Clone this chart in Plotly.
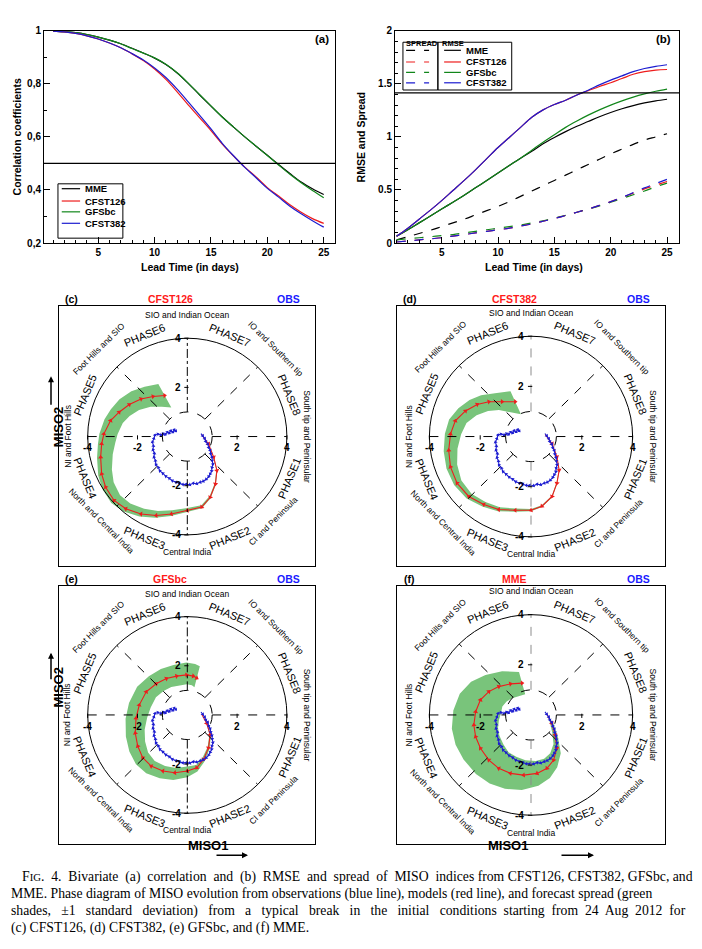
"""
Fig. 4: MISO skill (correlation, RMSE/spread) and phase diagrams for
CFST126, CFST382, GFSbc and MME.
"""
import numpy as np
import plotly.graph_objects as go

W, H = 702, 949
OFF = 8  # the page body keeps its default 8px margin
FW, FH = W - OFF, H - OFF
SANS = "Liberation Sans"
SERIF = "Liberation Serif"

# Panel (a) - bivariate correlation
# ============
lead_days = list(range(1, 26))
corr_mme = [0.999, 0.997, 0.993, 0.986, 0.976, 0.965, 0.951, 0.934, 0.916, 0.897, 0.873, 0.841,
            0.801, 0.758, 0.716, 0.675, 0.637, 0.600, 0.565, 0.531, 0.496, 0.462, 0.430, 0.405, 0.383]
corr_cfst126 = [0.999, 0.996, 0.990, 0.981, 0.969, 0.954, 0.936, 0.913, 0.888, 0.856, 0.817, 0.770,
                0.720, 0.672, 0.624, 0.573, 0.528, 0.486, 0.449, 0.409, 0.377, 0.344, 0.316, 0.292, 0.274]
corr_gfsbc = [0.999, 0.997, 0.993, 0.986, 0.976, 0.965, 0.951, 0.933, 0.916, 0.898, 0.874, 0.842,
              0.802, 0.759, 0.717, 0.675, 0.637, 0.600, 0.565, 0.530, 0.494, 0.459, 0.427, 0.398, 0.371]
corr_cfst382 = [0.999, 0.996, 0.990, 0.981, 0.969, 0.954, 0.936, 0.914, 0.890, 0.860, 0.824, 0.780,
                0.731, 0.681, 0.630, 0.576, 0.529, 0.485, 0.446, 0.406, 0.373, 0.339, 0.310, 0.284, 0.260]
corr_threshold = 0.5

# Panel (b) - RMSE (solid) and spread (dashed)
# ============
rmse_mme = [0.065, 0.125, 0.19, 0.255, 0.32, 0.385, 0.45, 0.52, 0.59, 0.66, 0.73, 0.80,
            0.865, 0.935, 0.995, 1.05, 1.10, 1.145, 1.19, 1.23, 1.265, 1.295, 1.32, 1.34, 1.355]
rmse_cfst126 = [0.065, 0.14, 0.225, 0.31, 0.40, 0.495, 0.59, 0.69, 0.795, 0.90, 0.995, 1.09,
                1.185, 1.255, 1.305, 1.345, 1.395, 1.435, 1.475, 1.51, 1.55, 1.59, 1.615, 1.63, 1.635]
rmse_gfsbc = [0.065, 0.125, 0.19, 0.255, 0.32, 0.385, 0.45, 0.52, 0.59, 0.66, 0.73, 0.80,
              0.875, 0.95, 1.02, 1.09, 1.15, 1.205, 1.255, 1.30, 1.34, 1.375, 1.405, 1.43, 1.45]
rmse_cfst382 = [0.065, 0.14, 0.225, 0.31, 0.40, 0.495, 0.59, 0.69, 0.795, 0.90, 0.995, 1.09,
                1.185, 1.255, 1.305, 1.345, 1.395, 1.44, 1.49, 1.535, 1.575, 1.615, 1.645, 1.665, 1.68]
spread_mme = [0.03, 0.06, 0.09, 0.12, 0.155, 0.19, 0.225, 0.265, 0.305, 0.345, 0.39, 0.44,
              0.49, 0.54, 0.59, 0.64, 0.69, 0.74, 0.79, 0.84, 0.885, 0.93, 0.97, 1.00, 1.03]
spread_cfst126 = [0.01, 0.02, 0.03, 0.04, 0.05, 0.065, 0.08, 0.095, 0.11, 0.125, 0.14, 0.16,
                  0.18, 0.205, 0.23, 0.26, 0.29, 0.32, 0.355, 0.39, 0.43, 0.47, 0.51, 0.545, 0.58]
spread_gfsbc = [0.03, 0.04, 0.05, 0.06, 0.07, 0.08, 0.095, 0.11, 0.125, 0.14, 0.155, 0.17,
                0.19, 0.21, 0.235, 0.26, 0.29, 0.32, 0.35, 0.385, 0.42, 0.455, 0.49, 0.53, 0.565]
spread_cfst382 = [0.01, 0.02, 0.03, 0.04, 0.05, 0.065, 0.08, 0.095, 0.11, 0.125, 0.14, 0.16,
                  0.18, 0.205, 0.23, 0.26, 0.29, 0.32, 0.355, 0.39, 0.43, 0.475, 0.52, 0.56, 0.60]
rmse_threshold = 1.414

# Phase diagrams (c)-(f)
# ============
obs_miso1 = [0.55, 0.62, 0.70, 0.74, 0.82, 0.86, 0.92, 0.94, 0.99, 1.00, 1.03, 0.99, 0.98, 0.92,
             0.86, 0.76, 0.64, 0.52, 0.38, 0.24, 0.10, -0.04, -0.18, -0.32, -0.46, -0.60, -0.72,
             -0.86, -0.98, -1.10, -1.16, -1.26, -1.28, -1.34, -1.32, -1.38, -1.36, -1.40, -1.34,
             -1.30, -1.18, -1.06, -0.96, -0.88, -0.80, -0.72, -0.66, -0.58, -0.52, -0.46]
obs_miso2 = [0.12, 0.03, -0.08, -0.20, -0.30, -0.45, -0.56, -0.70, -0.84, -0.98, -1.12, -1.26,
             -1.40, -1.52, -1.63, -1.74, -1.82, -1.86, -1.92, -1.90, -1.96, -1.94, -1.95, -1.90,
             -1.86, -1.80, -1.70, -1.62, -1.50, -1.40, -1.26, -1.14, -0.98, -0.84, -0.68, -0.54,
             -0.38, -0.22, -0.08, 0.06, 0.10, 0.06, 0.12, 0.08, 0.18, 0.14, 0.24, 0.18, 0.28, 0.22]

cfst126_miso1 = [0.58, 0.85, 1.06, 1.19, 1.13, 0.92, 0.58, 0.00, -0.64, -1.25, -1.86, -2.47,
                 -2.94, -3.28, -3.44, -3.48, -3.44, -3.35, -3.08, -2.74, -2.33, -1.86, -1.38, -0.91]
cfst126_miso2 = [0.08, -0.30, -0.84, -1.38, -1.93, -2.47, -2.87, -3.01, -3.15, -3.21, -3.15, -2.94,
                 -2.60, -2.06, -1.52, -0.84, -0.30, 0.11, 0.65, 0.99, 1.30, 1.53, 1.63, 1.67]
cfst126_sd_in = [0, 0.02, 0.03, 0.04, 0.05, 0.06, 0.08, 0.10, 0.15, 0.20, 0.25, 0.28,
                 0.32, 0.38, 0.45, 0.50, 0.55, 0.55, 0.50, 0.45, 0.45, 0.50, 0.55, 0.56]
cfst126_sd_out = [0, 0.01, 0.02, 0.02, 0.03, 0.04, 0.05, 0.06, 0.08, 0.10, 0.12, 0.14,
                  0.15, 0.15, 0.15, 0.15, 0.15, 0.18, 0.25, 0.35, 0.45, 0.50, 0.52, 0.53]

cfst382_miso1 = [0.56, 0.83, 1.02, 1.11, 1.02, 0.83, 0.43, 0.00, -0.62, -1.27, -1.86,
                 -2.45, -2.91, -3.17, -3.24, -3.17, -2.98, -2.58, -2.12, -1.66, -1.14, -0.62]
cfst382_miso2 = [0.08, -0.29, -0.81, -1.34, -1.86, -2.39, -2.78, -2.94, -2.94, -2.91, -2.71,
                 -2.39, -1.86, -1.21, -0.55, 0.10, 0.63, 1.02, 1.28, 1.39, 1.39, 1.39]
cfst382_sd_in = [0, 0.01, 0.02, 0.02, 0.03, 0.03, 0.04, 0.05, 0.07, 0.10, 0.12,
                 0.15, 0.20, 0.28, 0.35, 0.42, 0.45, 0.47, 0.50, 0.52, 0.54, 0.55]
cfst382_sd_out = [0, 0.01, 0.01, 0.02, 0.02, 0.03, 0.03, 0.04, 0.06, 0.08, 0.10,
                  0.12, 0.14, 0.17, 0.20, 0.22, 0.25, 0.30, 0.35, 0.40, 0.44, 0.46]

gfsbc_miso1 = [0.58, 0.78, 0.92, 0.85, 0.65, 0.38, 0.00, -0.50, -0.98, -1.45, -1.79,
               -1.99, -2.09, -2.06, -1.93, -1.65, -1.25, -0.84, -0.43, -0.03, 0.24, 0.38]
gfsbc_miso2 = [0.03, -0.34, -0.81, -1.34, -1.81, -2.15, -2.28, -2.35, -2.28, -2.08, -1.74,
               -1.27, -0.74, -0.13, 0.40, 0.94, 1.27, 1.48, 1.58, 1.63, 1.58, 1.50]
gfsbc_sd_in = [0, 0.02, 0.04, 0.06, 0.09, 0.12, 0.18, 0.20, 0.22, 0.25, 0.30,
               0.35, 0.40, 0.45, 0.47, 0.45, 0.42, 0.40, 0.40, 0.38, 0.38, 0.38]
gfsbc_sd_out = [0, 0.02, 0.04, 0.07, 0.10, 0.15, 0.25, 0.30, 0.32, 0.35, 0.38,
                0.40, 0.40, 0.42, 0.42, 0.42, 0.42, 0.45, 0.47, 0.50, 0.50, 0.50]

mme_miso1 = [0.63, 0.82, 0.95, 1.02, 0.89, 0.63, 0.24, -0.29, -0.81, -1.27,
             -1.66, -1.99, -2.18, -2.25, -2.18, -1.99, -1.66, -1.27, -0.81, -0.35]
mme_miso2 = [0.03, -0.33, -0.80, -1.33, -1.80, -2.13, -2.33, -2.40, -2.33, -2.13,
             -1.80, -1.33, -0.87, -0.40, 0.13, 0.60, 0.93, 1.13, 1.24, 1.27]
mme_sd_in = [0, 0.08, 0.15, 0.22, 0.30, 0.40, 0.50, 0.60, 0.70, 0.75,
             0.85, 0.90, 0.95, 1.00, 1.00, 0.90, 0.80, 0.70, 0.60, 0.46]
mme_sd_out = [0, 0.08, 0.15, 0.25, 0.32, 0.40, 0.50, 0.60, 0.65, 0.70,
              0.75, 0.80, 0.85, 0.88, 0.88, 0.85, 0.80, 0.70, 0.60, 0.46]

phase_names = ["PHASE1", "PHASE2", "PHASE3", "PHASE4", "PHASE5", "PHASE6", "PHASE7", "PHASE8"]
region_names = ["SIO and Indian Ocean", "IO and Southern tip", "South tip and Peninsular",
                "CI and Peninsula", "Central India", "North and Central India",
                "NI and Foot Hills", "Foot Hills and SIO"]
amp_ticks = [-4, -2, 2, 4]

caption_lines = [
    "F<span style='font-size:10.7px'>IG</span>.  4.  Bivariate  (a)  correlation  and  (b)  RMSE  and  spread  of  MISO  "
    "indices from CFST126, CFST382, GFSbc, and",
    "MME. Phase diagram of MISO evolution from observations (blue line), models (red line), and forecast spread (green",
    "shades,   ±1   standard   deviation)   from   a   typical   break   in   the   initial   conditions  "
    "starting  from  24  Aug  2012  for",
    "(c) CFST126, (d) CFST382, (e) GFSbc, and (f) MME.",
]

C_BLACK, C_RED, C_GREEN, C_BLUE = "#000000", "#ee1c1c", "#11861a", "#1c1cd0"
C_BAND = "#79c47b"


def px_x(p):
    return (p - OFF) / FW


def px_y(p):
    return 1 - (p - OFF) / FH


def band_polygon(m1, m2, sd_in, sd_out):
    # --- Radial envelope around the forecast track
    x, y = np.asarray(m1), np.asarray(m2)
    r = np.hypot(x, y)
    ux, uy = x / r, y / r
    xo, yo = x + ux * np.asarray(sd_out), y + uy * np.asarray(sd_out)
    xi, yi = x - ux * np.asarray(sd_in), y - uy * np.asarray(sd_in)
    return np.concatenate([xo, xi[::-1]]), np.concatenate([yo, yi[::-1]])


def label_angle(theta):
    # Keep text readable around the circle
    return 90 - theta if 0 <= theta <= 180 else -(theta + 90)


fig = go.Figure()
ann = []
shapes = []
bold_tick = dict(family=SANS, size=10, color="black", weight="bold")

# Line panels (a) and (b)
# ===================
line_axis = dict(showline=True, mirror=True, linecolor="black", linewidth=1, showgrid=False,
                 zeroline=False, ticks="inside", ticklen=6, tickcolor="black", tickfont=bold_tick)
fig.update_layout(
    xaxis=dict(line_axis, domain=[px_x(44), px_x(335)], range=[0.19, 26], anchor="y",
               tickvals=[5, 10, 15, 20, 25], minor=dict(dtick=1, ticks="inside", ticklen=3)),
    yaxis=dict(line_axis, domain=[px_y(240), px_y(25)], range=[0.2, 1], anchor="x",
               tickvals=[0.2, 0.4, 0.6, 0.8, 1.0], ticktext=["0,2", "0,4", "0,6", "0,8", "1"],
               minor=dict(dtick=0.1, ticks="inside", ticklen=3)),
    xaxis2=dict(line_axis, domain=[px_x(395), px_x(679)], range=[0.86, 26.06], anchor="y2",
                tickvals=[5, 10, 15, 20, 25], minor=dict(dtick=1, ticks="inside", ticklen=3)),
    yaxis2=dict(line_axis, domain=[px_y(240), px_y(25)], range=[0, 2], anchor="x2",
                tickvals=[0, 0.5, 1, 1.5, 2], ticktext=["0", "0.5", "1", "1.5", "2"],
                minor=dict(dtick=0.1, ticks="inside", ticklen=3)),
)

corr_series = [("MME", corr_mme, C_BLACK), ("GFSbc", corr_gfsbc, C_GREEN),
               ("CFST126", corr_cfst126, C_RED), ("CFST382", corr_cfst382, C_BLUE)]
for name, vals, col in corr_series:
    fig.add_scatter(x=lead_days, y=vals, mode="lines", name=name, line=dict(color=col, width=1.2, shape="spline"),
                    xaxis="x", yaxis="y")

skill_series = [("MME", rmse_mme, spread_mme, C_BLACK), ("GFSbc", rmse_gfsbc, spread_gfsbc, C_GREEN),
                ("CFST126", rmse_cfst126, spread_cfst126, C_RED), ("CFST382", rmse_cfst382, spread_cfst382, C_BLUE)]
for name, rmse, spread, col in skill_series:
    fig.add_scatter(x=lead_days, y=spread, mode="lines", name=name + " spread",
                    line=dict(color=col, width=1.2, dash="dash", shape="spline"), xaxis="x2", yaxis="y2")
for name, rmse, spread, col in skill_series:
    fig.add_scatter(x=lead_days, y=rmse, mode="lines", name=name + " RMSE",
                    line=dict(color=col, width=1.2, shape="spline"), xaxis="x2", yaxis="y2")

shapes.append(dict(type="line", xref="x domain", yref="y", x0=0, x1=1, y0=corr_threshold, y1=corr_threshold,
                   line=dict(color="black", width=1.2)))
shapes.append(dict(type="line", xref="x2 domain", yref="y2", x0=0, x1=1, y0=rmse_threshold, y1=rmse_threshold,
                   line=dict(color="black", width=1.2)))

# --- Legend (a)
shapes.append(dict(type="rect", xref="x domain", yref="y domain", x0=0.048, x1=0.271, y0=0.023, y1=0.279,
                   line=dict(color="black", width=1)))
leg_rows = [("MME", C_BLACK), ("CFST126", C_RED), ("GFSbc", C_GREEN), ("CFST382", C_BLUE)]
for (name, col), yy in zip(leg_rows, [0.256, 0.198, 0.147, 0.093]):
    shapes.append(dict(type="line", xref="x domain", yref="y domain", x0=0.061, x1=0.124, y0=yy, y1=yy,
                       line=dict(color=col, width=1.2)))
    ann.append(dict(xref="x domain", yref="y domain", x=0.135, y=yy, text=f"<b>{name}</b>", showarrow=False,
                    xanchor="left", yanchor="middle", font=dict(family=SANS, size=9.5, color="black")))

# --- Legend (b)
shapes.append(dict(type="rect", xref="x2 domain", yref="y2 domain", x0=0.028, x1=0.151, y0=0.721, y1=0.946,
                   line=dict(color="black", width=1)))
shapes.append(dict(type="rect", xref="x2 domain", yref="y2 domain", x0=0.151, x1=0.411, y0=0.721, y1=0.946,
                   line=dict(color="black", width=1)))
ann.append(dict(xref="x2 domain", yref="y2 domain", x=0.030, y=0.972, text="<b>SPREAD</b>", showarrow=False,
                xanchor="left", font=dict(family=SANS, size=7.5, color="black")))
ann.append(dict(xref="x2 domain", yref="y2 domain", x=0.160, y=0.972, text="<b>RMSE</b>", showarrow=False,
                xanchor="left", font=dict(family=SANS, size=7.5, color="black")))
for (name, col), yy in zip(leg_rows, [0.908, 0.853, 0.804, 0.755]):
    shapes.append(dict(type="line", xref="x2 domain", yref="y2 domain", x0=0.039, x1=0.12, y0=yy, y1=yy,
                       line=dict(color=col, width=1.2, dash="dash")))
    shapes.append(dict(type="line", xref="x2 domain", yref="y2 domain", x0=0.173, x1=0.232, y0=yy, y1=yy,
                       line=dict(color=col, width=1.2)))
    ann.append(dict(xref="x2 domain", yref="y2 domain", x=0.243, y=yy, text=f"<b>{name}</b>", showarrow=False,
                    xanchor="left", yanchor="middle", font=dict(family=SANS, size=9.5, color="black")))

# --- Panel tags and axis titles
title_font = dict(family=SANS, size=10.5, color="black")
for txt, x, y, ang in [("(a)", 322, 33, 0), ("(b)", 663, 33, 0),
                       ("Correlation coefficients", 17, 133, -90), ("Lead Time (in days)", 190, 264, 0),
                       ("RMSE and Spread", 361, 133, -90), ("Lead Time (in days)", 534, 264, 0)]:
    size = 11.5 if txt.startswith("(") else 10.5
    ann.append(dict(xref="paper", yref="paper", x=px_x(x), y=px_y(y), text=f"<b>{txt}</b>", showarrow=False,
                    textangle=ang, xanchor="center", yanchor="middle", font=dict(title_font, size=size)))

# Phase diagrams
# ===================
phase_panels = [
    # n, box (l, t, r, b), centre, unit, tag, model name, track, vertical axis grey
    (3, (59, 304, 315, 567), (187.3, 436), 24.9, "(c)", "CFST126",
     (cfst126_miso1, cfst126_miso2, cfst126_sd_in, cfst126_sd_out), False),
    (4, (397, 304, 665, 567), (531, 436), 25.4, "(d)", "CFST382",
     (cfst382_miso1, cfst382_miso2, cfst382_sd_in, cfst382_sd_out), True),
    (5, (59, 587, 315, 849), (187.3, 718), 24.9, "(e)", "GFSbc",
     (gfsbc_miso1, gfsbc_miso2, gfsbc_sd_in, gfsbc_sd_out), False),
    (6, (397, 587, 665, 849), (531, 718), 25.4, "(f)", "MME",
     (mme_miso1, mme_miso2, mme_sd_in, mme_sd_out), True),
]

for n, (left, top, right, bottom), (cx, cy), unit, tag, model, track, grey_vert in phase_panels:
    xr, yr = f"x{n}", f"y{n}"
    box_axis = dict(showline=True, mirror=True, linecolor="black", linewidth=1, showgrid=False,
                    zeroline=False, ticks="", showticklabels=False)
    fig.update_layout(**{
        f"xaxis{n}": dict(box_axis, domain=[px_x(left), px_x(right)], anchor=yr,
                          range=[(left - cx) / unit, (right - cx) / unit]),
        f"yaxis{n}": dict(box_axis, domain=[px_y(bottom), px_y(top)], anchor=xr,
                          range=[(cy - bottom) / unit, (cy - top) / unit]),
    })

    # --- Circles and phase separators
    shapes.append(dict(type="circle", xref=xr, yref=yr, x0=-4, y0=-4, x1=4, y1=4,
                       line=dict(color="black", width=1)))
    shapes.append(dict(type="circle", xref=xr, yref=yr, x0=-1, y0=-1, x1=1, y1=1,
                       line=dict(color="black", width=1, dash="dash")))
    vcol = "#8c8c8c" if grey_vert else "black"
    vdash = "dash" if grey_vert else "dashdot"
    for x0, y0, x1, y1, col, dash in [(-4, 0, -1, 0, "black", "dash"), (1, 0, 4, 0, "black", "dash"),
                                      (0, 1, 0, 4, vcol, vdash), (0, -1, 0, -4, vcol, vdash)]:
        shapes.append(dict(type="line", xref=xr, yref=yr, x0=x0, y0=y0, x1=x1, y1=y1,
                           line=dict(color=col, width=1, dash=dash)))
    c45 = np.cos(np.pi / 4)
    for sx, sy in [(1, 1), (-1, 1), (-1, -1), (1, -1)]:
        shapes.append(dict(type="line", xref=xr, yref=yr, x0=sx * c45, y0=sy * c45, x1=4 * sx * c45,
                           y1=4 * sy * c45, line=dict(color="black", width=1, dash="dash")))

    # --- Amplitude ticks on the axes
    for v in amp_ticks:
        shapes.append(dict(type="line", xref=xr, yref=yr, x0=v, x1=v, y0=-0.12, y1=0.05,
                           line=dict(color="black", width=1)))
        shapes.append(dict(type="line", xref=xr, yref=yr, x0=-0.12, x1=0.05, y0=v, y1=v,
                           line=dict(color="black", width=1)))
        ann.append(dict(xref=xr, yref=yr, x=v, y=-0.45, text=f"<b>{v}</b>", showarrow=False,
                        xanchor="center", yanchor="middle", font=dict(family=SANS, size=10, color="black")))
        ann.append(dict(xref=xr, yref=yr, x=-0.18, y=v, text=f"<b>{v}</b>", showarrow=False,
                        xanchor="right", yanchor="middle", font=dict(family=SANS, size=10, color="black")))

    # --- Phase and region labels
    for k, name in enumerate(phase_names):
        theta = -22.5 - 45 * k
        theta = theta + 360 if theta <= -180 else theta
        t = np.radians(theta)
        ann.append(dict(xref=xr, yref=yr, x=4.45 * np.cos(t), y=4.45 * np.sin(t), text=name, showarrow=False,
                        textangle=label_angle(theta), xanchor="center", yanchor="middle",
                        font=dict(family=SANS, size=11, color="black")))
    for k, name in enumerate(region_names):
        theta = 90 - 45 * k
        theta = theta + 360 if theta <= -180 else theta
        t = np.radians(theta)
        rr = 4.82 + 0.12 * np.sin(t) + 0.15 * abs(np.sin(2 * t))
        ann.append(dict(xref=xr, yref=yr, x=rr * np.cos(t), y=rr * np.sin(t), text=name, showarrow=False,
                        textangle=label_angle(theta), xanchor="center", yanchor="middle",
                        font=dict(family=SANS, size=8.5, color="black")))

    # --- Spread band, forecast and observed tracks
    m1, m2, sd_in, sd_out = track
    bx, by = band_polygon(m1, m2, sd_in, sd_out)
    fig.add_scatter(x=bx, y=by, mode="lines", fill="toself", fillcolor=C_BAND, line=dict(width=0),
                    xaxis=xr, yaxis=yr, hoverinfo="skip")
    fig.add_scatter(x=m1, y=m2, mode="lines+markers", name=model, xaxis=xr, yaxis=yr,
                    line=dict(color=C_RED, width=1.1),
                    marker=dict(symbol="triangle-up", size=4.5, color=C_RED, angleref="previous"))
    fig.add_scatter(x=obs_miso1, y=obs_miso2, mode="lines+markers", name="OBS", xaxis=xr, yaxis=yr,
                    line=dict(color=C_BLUE, width=1.1),
                    marker=dict(symbol="triangle-up", size=3.5, color=C_BLUE, angleref="previous"))

    # --- Panel header
    ty = top - 7
    mid = (left + right) / 2
    for txt, x, col in [(tag, left + 13, "black"), (model, mid - 17, "#ff1a1a"), ("OBS", right - 27, "#1a1aff")]:
        ann.append(dict(xref="paper", yref="paper", x=px_x(x), y=px_y(ty), text=f"<b>{txt}</b>",
                        showarrow=False, xanchor="center", yanchor="middle",
                        font=dict(family=SANS, size=10.5, color=col)))

# --- MISO axis names with arrows
for y_txt, y_head, y_tail in [(427, 375, 405), (713, 655, 683)]:
    ann.append(dict(xref="paper", yref="paper", x=px_x(49), y=px_y(y_txt), text="<b>MISO2</b>",
                    showarrow=False, textangle=-90, font=dict(family=SANS, size=13, color="black")))
    ann.append(dict(xref="paper", yref="paper", x=px_x(51), y=px_y(y_head), text="", showarrow=True,
                    axref="pixel", ayref="pixel", ax=0, ay=y_tail - y_head, arrowhead=2, arrowsize=0.8,
                    arrowwidth=1.5, arrowcolor="black"))
for x_txt, x_head, x_tail in [(186, 248, 215), (530, 594, 560)]:
    ann.append(dict(xref="paper", yref="paper", x=px_x(x_txt), y=px_y(860), text="<b>MISO1</b>",
                    showarrow=False, font=dict(family=SANS, size=13, color="black")))
    ann.append(dict(xref="paper", yref="paper", x=px_x(x_head), y=px_y(860), text="", showarrow=True,
                    axref="pixel", ayref="pixel", ax=x_tail - x_head, ay=0, arrowhead=2, arrowsize=0.8,
                    arrowwidth=1.5, arrowcolor="black"))

# Caption
# ===================
for i, line in enumerate(caption_lines):
    ann.append(dict(xref="paper", yref="paper", x=px_x(20 if i == 0 else 9), y=px_y(882 + 17.2 * i), text=line,
                    showarrow=False, xanchor="left", yanchor="middle",
                    font=dict(family=SERIF, size=13.7, color="black")))

fig.update_layout(
    width=FW, height=FH,
    margin=dict(l=0, r=0, t=0, b=0),
    paper_bgcolor="white", plot_bgcolor="white",
    showlegend=False,
    annotations=ann,
    shapes=shapes,
)

fig.write_html("out.html")
